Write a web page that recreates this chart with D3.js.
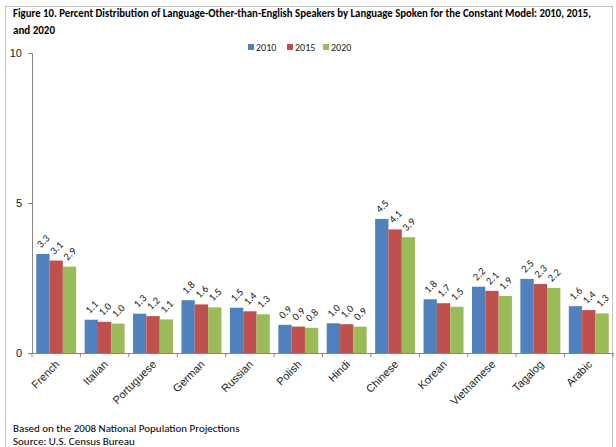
<!DOCTYPE html>
<html>
<head>
<meta charset="utf-8">
<script src="https://cdn.jsdelivr.net/npm/d3@7"></script>
<style>
  html, body { margin: 0; padding: 0; background: #fff; }
  svg { display: block; font-family: Carlito, "Liberation Sans Narrow", "Liberation Sans", Arial, sans-serif; }
</style>
</head>
<body>
<svg id="chart" width="616" height="447"></svg>
<script>
const categories = ["French","Italian","Portuguese","German","Russian","Polish","Hindi","Chinese","Korean","Vietnamese","Tagalog","Arabic"];
const seriesNames = ["2010","2015","2020"];
const values2010 = [3.30, 1.11, 1.31, 1.76, 1.51, 0.94, 0.99, 4.47, 1.79, 2.21, 2.47, 1.56];
const values2015 = [3.08, 1.04, 1.23, 1.62, 1.39, 0.88, 0.96, 4.12, 1.66, 2.07, 2.30, 1.43];
const values2020 = [2.88, 0.98, 1.12, 1.52, 1.29, 0.84, 0.88, 3.86, 1.54, 1.90, 2.17, 1.32];
const yTicks = [0, 5, 10];
const colors = ["#4F81BD", "#C0504D", "#9BBB59"];
const titleLines = ["Figure 10.  Percent Distribution of Language-Other-than-English Speakers by Language Spoken for the Constant Model: 2010, 2015,", "and 2020"];
const footLines = ["Based on the 2008 National Population Projections", "Source:  U.S. Census Bureau"];

const seriesValues = [values2010, values2015, values2020];
const svg = d3.select("#chart");

// outer frame
svg.append("rect").attr("x", 5.5).attr("y", 6.5).attr("width", 607).attr("height", 470)
  .attr("fill", "none").attr("stroke", "#c4c4c4").attr("stroke-width", 1);

// title
svg.append("g").selectAll("text").data(titleLines).join("text")
  .attr("x", 13).attr("y", (d, i) => 17 + i * 17)
  .attr("font-size", 11).attr("font-weight", "bold").attr("fill", "#000")
  .attr("textLength", (d, i) => i === 0 ? 578 : null)
  .attr("lengthAdjust", "spacingAndGlyphs")
  .text(d => d);

// footer
svg.append("g").selectAll("text").data(footLines).join("text")
  .attr("x", 13).attr("y", (d, i) => 432 + i * 12.5)
  .attr("font-size", 11).attr("fill", "#000")
  .text(d => d);

const x0 = d3.scaleBand().domain(categories).range([32, 613]).paddingInner(0.175).paddingOuter(0.0875);
const x1 = d3.scaleBand().domain(seriesNames).range([0, x0.bandwidth()]);
const y = d3.scaleLinear().domain([0, 10]).range([353, 53]);

// bars
const groups = svg.append("g").selectAll("g").data(categories).join("g")
  .attr("transform", d => `translate(${x0(d)},0)`);
groups.selectAll("rect").data((c, ci) => seriesNames.map((s, si) => ({s, si, v: seriesValues[si][ci]})))
  .join("rect")
  .attr("x", d => x1(d.s)).attr("width", x1.bandwidth())
  .attr("y", d => y(d.v)).attr("height", d => y(0) - y(d.v))
  .attr("fill", d => colors[d.si]);

// data labels
groups.selectAll("text").data((c, ci) => seriesNames.map((s, si) => ({s, si, v: seriesValues[si][ci]})))
  .join("text")
  .attr("transform", d => `translate(${x1(d.s) + x1.bandwidth() / 2 + 1},${y(d.v) - 12}) rotate(-45)`)
  .attr("text-anchor", "middle").attr("dominant-baseline", "middle")
  .attr("font-size", 10.5).attr("fill", "#222")
  .text(d => d.v.toFixed(1));

// y axis
const yAxis = svg.append("g").attr("transform", "translate(32,0)")
  .call(d3.axisLeft(y).tickValues(yTicks).tickSize(4).tickPadding(6).tickFormat(d3.format("d")));
yAxis.select(".domain").attr("stroke", "#868686");
yAxis.selectAll(".tick line").attr("stroke", "#868686");
yAxis.selectAll(".tick text").attr("font-size", 11).attr("fill", "#222").attr("font-family", null);

// x axis
const xAxis = svg.append("g").attr("transform", `translate(0,${y(0)})`)
  .call(d3.axisBottom(x0).tickSize(0).tickSizeOuter(0).tickFormat(""));
xAxis.select(".domain").attr("stroke", "#868686");
xAxis.selectAll(".tick").remove();
// boundary ticks
const step = x0.step();
const bounds = d3.range(categories.length + 1).map(i => x0.range()[0] + i * step);
xAxis.append("g").selectAll("line").data(bounds).join("line")
  .attr("x1", d => d).attr("x2", d => d).attr("y1", 0).attr("y2", 4)
  .attr("stroke", "#868686");
// category labels
xAxis.append("g").selectAll("text").data(categories).join("text")
  .attr("transform", d => `translate(${x0(d) + x0.bandwidth() / 2 + 4},${12}) rotate(-45)`)
  .attr("text-anchor", "end").attr("font-size", 11).attr("fill", "#222")
  .text(d => d);

// legend
const legend = svg.append("g").selectAll("g").data(seriesNames).join("g")
  .attr("transform", (d, i) => `translate(${[248, 287, 323][i]},44)`);
legend.append("rect").attr("width", 6).attr("height", 6).attr("fill", (d, i) => colors[i]);
legend.append("text").attr("x", 8).attr("y", 6.5).attr("font-size", 10).attr("fill", "#222").text(d => d);
</script>
</body>
</html>
